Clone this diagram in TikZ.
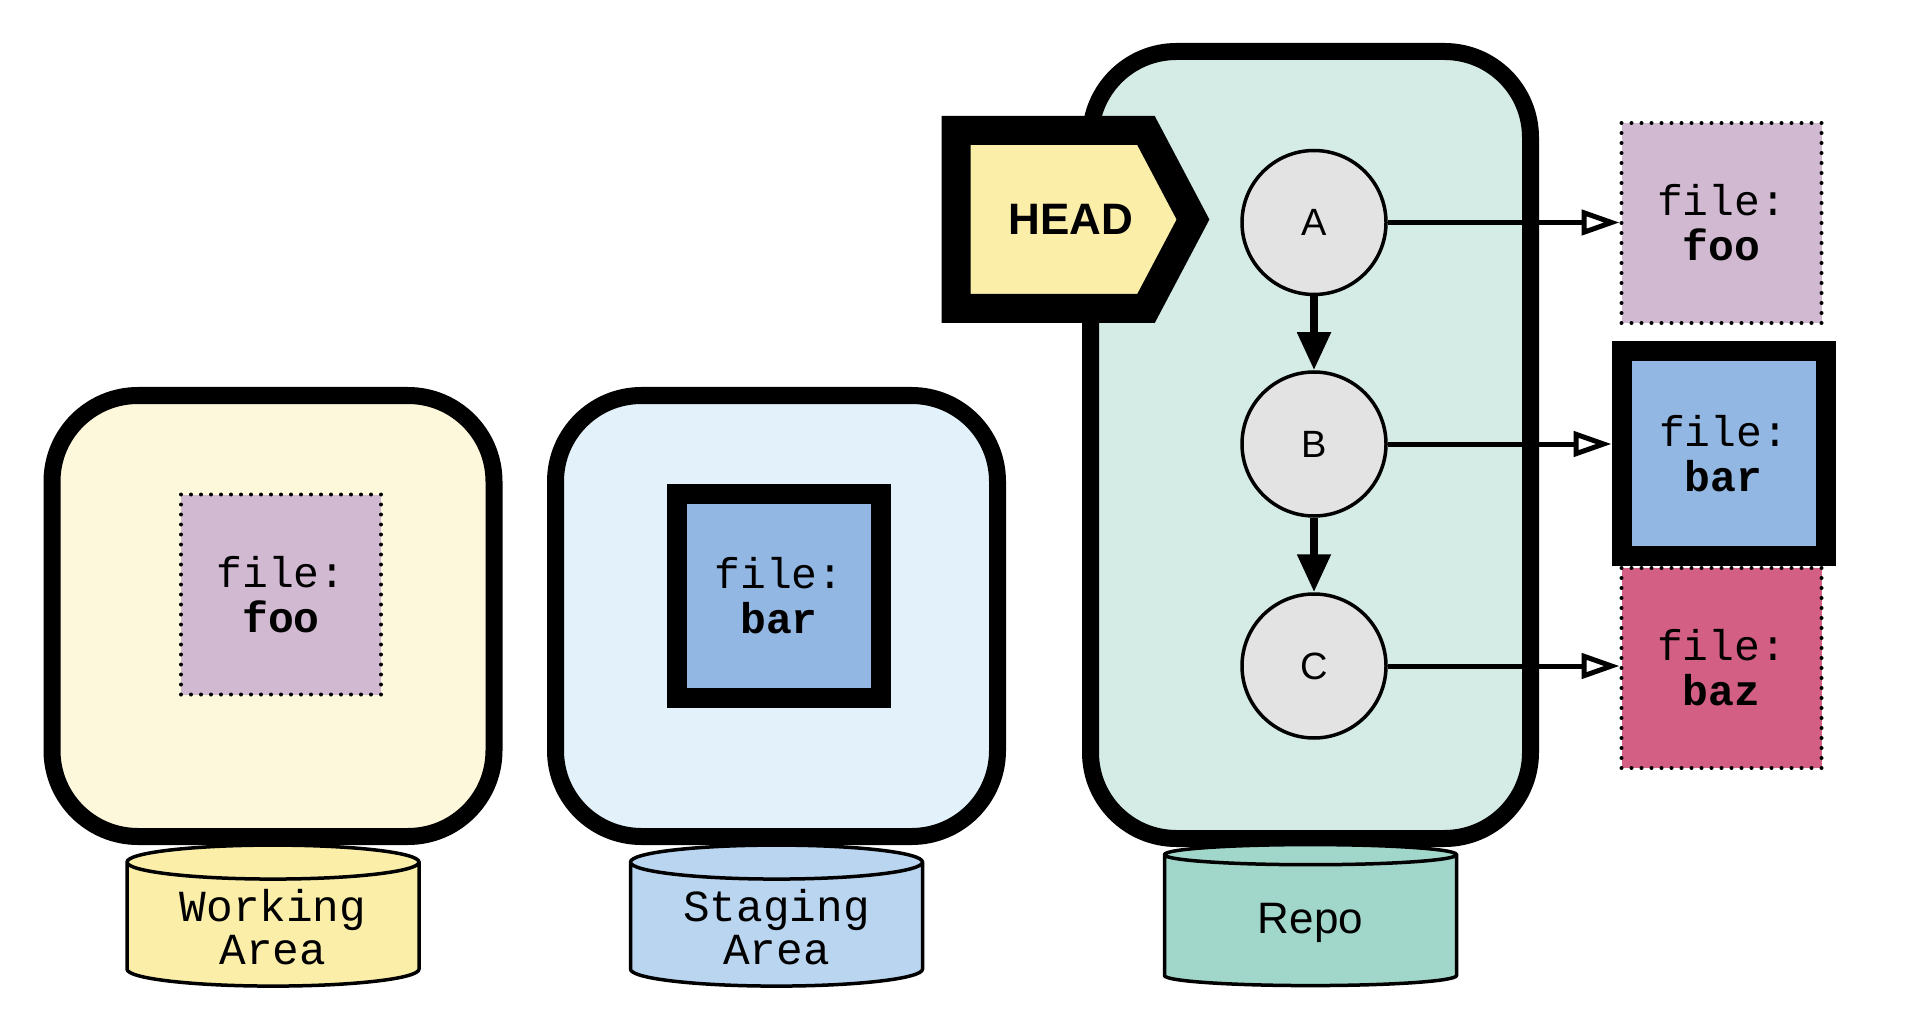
\documentclass[tikz,border=0pt]{standalone}
\usepackage{fontspec}
\setmainfont{Liberation Sans}
\setmonofont{Liberation Mono}
\usetikzlibrary{shapes.geometric,arrows.meta}

\definecolor{workbg}{HTML}{FDF7DC}
\definecolor{workcyl}{HTML}{FAEEA9}
\definecolor{stagebg}{HTML}{E3F2FA}
\definecolor{stagecyl}{HTML}{B9D5EF}
\definecolor{repobg}{HTML}{D5ECE6}
\definecolor{repocyl}{HTML}{A1D6CA}
\definecolor{commitfill}{HTML}{E3E3E3}
\definecolor{foofill}{HTML}{D1B9D2}
\definecolor{barfill}{HTML}{91B7E2}
\definecolor{bazfill}{HTML}{D45F84}

\begin{document}
\begin{tikzpicture}[x=0.5pt,y=-0.5pt,
  area/.style={draw,line width=8.5pt,rounded corners=43pt,minimum width=221pt},
  store/.style={cylinder,shape border rotate=90,draw,line width=1.75pt,aspect=0.17,
    minimum width=146pt,minimum height=70.5pt,align=center,
    font=\ttfamily\fontsize{22.2}{21.5}\selectfont},
  loose/.style={draw,line width=2pt,dash pattern=on 0pt off 5pt,line cap=round,
    minimum size=100pt,align=center,font=\ttfamily\fontsize{21.5}{22.5}\selectfont},
  staged/.style={draw,line width=10pt,minimum size=102pt,align=center,
    font=\ttfamily\fontsize{21.5}{22.5}\selectfont},
  commit/.style={circle,draw,line width=1.75pt,fill=commitfill,minimum size=72pt,
    font=\fontsize{19}{19}\selectfont},
  parent/.style={line width=4pt,-{Triangle[length=19pt,width=16pt]}},
  tree/.style={line width=2.5pt,-{Triangle[open,length=19pt,width=12.5pt]}}]
\useasboundingbox (0,0) rectangle (1918,1032);

% the three areas
\node[area,fill=workbg,minimum height=220.5pt] (work) at (273,616) {};
\node[area,fill=stagebg,minimum height=220.5pt] (stage) at (776.5,616) {};
\node[area,fill=repobg,minimum width=220pt,minimum height=393.5pt] (repo) at (1310.5,445) {};

\node[store,fill=workcyl] (worklbl) at (273,927.5) {Working\\Area};
\node[store,fill=stagecyl] (stagelbl) at (776.5,927.5) {Staging\\Area};
\node[store,fill=repocyl,font=\fontsize{22}{22}\selectfont] (repolbl) at (1310.5,922.5) {Repo};

% files in working area and index
\node[loose,fill=foofill] (wfoo) at (281,594.5) {file:\\\textbf{foo}};
\node[staged,fill=barfill] (sbar) at (779,595.5) {file:\\\textbf{bar}};

% HEAD
\draw[line width=14.5pt,miter limit=10,fill=workcyl]
  (956,130.5) -- (1146,130.5) -- (1193,219.5) -- (1146,308.5) -- (956,308.5) -- cycle;
\node[font=\bfseries\fontsize{22}{22}\selectfont] (head) at (1071,219) {HEAD};

% commits
\node[commit] (A) at (1314,222.5) {A};
\node[commit] (B) at (1314,444) {B};
\node[commit] (C) at (1314,666) {C};
\draw[parent] (A) -- (B);
\draw[parent] (B) -- (C);

% files in the repo
\node[loose,fill=foofill] (rfoo) at (1721.5,223) {file:\\\textbf{foo}};
\node[staged,fill=barfill] (rbar) at (1723.5,453.5) {file:\\\textbf{bar}};
\node[loose,fill=bazfill] (rbaz) at (1721.5,668) {file:\\\textbf{baz}};
\draw[tree] (A) -- (A -| rfoo.west);
\draw[tree] (B) -- (B -| rbar.west);
\draw[tree] (C) -- (C -| rbaz.west);
\end{tikzpicture}
\end{document}
